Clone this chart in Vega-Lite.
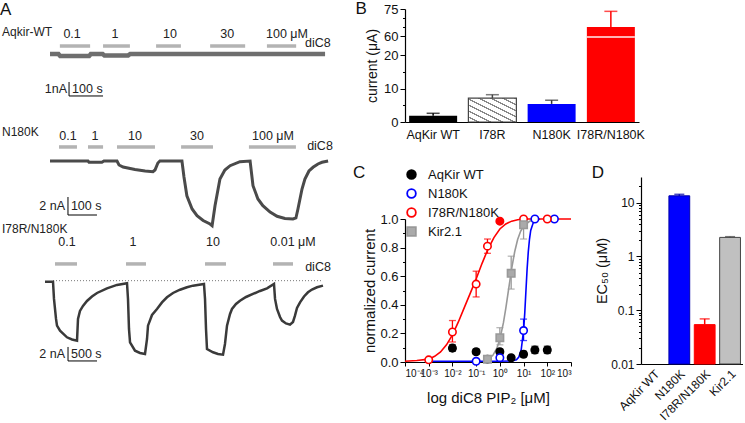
{
 "$schema": "https://vega.github.io/schema/vega-lite/v6.json",
 "padding": 0,
 "background": "white",
 "config": {
  "font": "Liberation Sans",
  "view": {"stroke": null},
  "axis": {"grid": false, "domainColor": "#000", "tickColor": "#000", "labelColor": "#111", "labelFontSize": 13, "titleFontSize": 14, "titleFontWeight": "normal", "titleColor": "#111", "tickSize": 4, "labelPadding": 2, "domainWidth": 1.2, "tickWidth": 1, "labelOverlap": false, "tickCount": 100},
  "title": {"fontSize": 17, "fontWeight": "normal", "anchor": "start", "color": "#111"},
  "text": {"fontSize": 12.5, "color": "#222"}
 },
 "resolve": {"scale": {"fill": "independent", "stroke": "independent", "color": "independent", "shape": "independent"}},
 "datasets": {
  "cpoints": [
   {"series": "AqKir WT", "conc": 0.01, "mean": 0.097, "lo": 0.075, "hi": 0.12},
   {"series": "AqKir WT", "conc": 0.1, "mean": 0.072, "lo": 0.055, "hi": 0.09},
   {"series": "AqKir WT", "conc": 0.3, "mean": 0.02, "lo": 0.012, "hi": 0.028},
   {"series": "AqKir WT", "conc": 1, "mean": 0.072, "lo": 0.055, "hi": 0.09},
   {"series": "AqKir WT", "conc": 3, "mean": 0.03, "lo": 0.022, "hi": 0.038},
   {"series": "AqKir WT", "conc": 10, "mean": 0.054, "lo": 0.035, "hi": 0.075},
   {"series": "AqKir WT", "conc": 30, "mean": 0.084, "lo": 0.06, "hi": 0.11},
   {"series": "AqKir WT", "conc": 100, "mean": 0.084, "lo": 0.06, "hi": 0.11},
   {"series": "N180K", "conc": 0.1, "mean": 0.005, "lo": 0.0, "hi": 0.01},
   {"series": "N180K", "conc": 1, "mean": 0.03, "lo": 0.02, "hi": 0.04},
   {"series": "N180K", "conc": 10, "mean": 0.22, "lo": 0.15, "hi": 0.3},
   {"series": "N180K", "conc": 30, "mean": 1.0, "lo": 1.0, "hi": 1.0},
   {"series": "N180K", "conc": 200, "mean": 1.0, "lo": 1.0, "hi": 1.0},
   {"series": "I78R/N180K", "conc": 0.001, "mean": 0.015, "lo": 0.01, "hi": 0.02},
   {"series": "I78R/N180K", "conc": 0.01, "mean": 0.21, "lo": 0.14, "hi": 0.29},
   {"series": "I78R/N180K", "conc": 0.1, "mean": 0.545, "lo": 0.455, "hi": 0.635},
   {"series": "I78R/N180K", "conc": 0.3, "mean": 0.81, "lo": 0.76, "hi": 0.86},
   {"series": "I78R/N180K", "conc": 1, "mean": 0.985, "lo": 0.975, "hi": 0.995},
   {"series": "I78R/N180K", "conc": 10, "mean": 1.0, "lo": 1.0, "hi": 1.0},
   {"series": "I78R/N180K", "conc": 100, "mean": 1.0, "lo": 1.0, "hi": 1.0},
   {"series": "Kir2.1", "conc": 0.3, "mean": 0.02, "lo": 0.01, "hi": 0.03},
   {"series": "Kir2.1", "conc": 1, "mean": 0.17, "lo": 0.12, "hi": 0.24},
   {"series": "Kir2.1", "conc": 3, "mean": 0.62, "lo": 0.51, "hi": 0.74},
   {"series": "Kir2.1", "conc": 10, "mean": 0.96, "lo": 0.86, "hi": 1.0}
  ],
  "ccurves": [
   {"series": "Kir2.1", "conc": 0.3, "y": 0.017}, {"series": "Kir2.1", "conc": 0.5, "y": 0.045}, {"series": "Kir2.1", "conc": 0.75, "y": 0.096}, {"series": "Kir2.1", "conc": 1, "y": 0.159}, {"series": "Kir2.1", "conc": 1.41, "y": 0.273}, {"series": "Kir2.1", "conc": 1.78, "y": 0.375}, {"series": "Kir2.1", "conc": 2.37, "y": 0.515}, {"series": "Kir2.1", "conc": 3.16, "y": 0.654}, {"series": "Kir2.1", "conc": 4.22, "y": 0.771}, {"series": "Kir2.1", "conc": 5.62, "y": 0.857}, {"series": "Kir2.1", "conc": 7.5, "y": 0.914}, {"series": "Kir2.1", "conc": 10, "y": 0.95}, {"series": "Kir2.1", "conc": 17.8, "y": 0.984}, {"series": "Kir2.1", "conc": 31.6, "y": 0.995},
   {"series": "N180K", "conc": 0.001, "y": 0.005}, {"series": "N180K", "conc": 1, "y": 0.005}, {"series": "N180K", "conc": 3.16, "y": 0.007}, {"series": "N180K", "conc": 5, "y": 0.015}, {"series": "N180K", "conc": 6.31, "y": 0.035}, {"series": "N180K", "conc": 7.94, "y": 0.085}, {"series": "N180K", "conc": 10, "y": 0.22}, {"series": "N180K", "conc": 11.2, "y": 0.34}, {"series": "N180K", "conc": 12.6, "y": 0.5}, {"series": "N180K", "conc": 14.1, "y": 0.65}, {"series": "N180K", "conc": 15.8, "y": 0.77}, {"series": "N180K", "conc": 17.8, "y": 0.86}, {"series": "N180K", "conc": 20, "y": 0.92}, {"series": "N180K", "conc": 25.1, "y": 0.97}, {"series": "N180K", "conc": 31.6, "y": 0.99}, {"series": "N180K", "conc": 50, "y": 1.0},
   {"series": "I78R/N180K", "conc": 0.0001, "y": 0.005}, {"series": "I78R/N180K", "conc": 0.000316, "y": 0.01}, {"series": "I78R/N180K", "conc": 0.001, "y": 0.02}, {"series": "I78R/N180K", "conc": 0.00178, "y": 0.04}, {"series": "I78R/N180K", "conc": 0.00316, "y": 0.07}, {"series": "I78R/N180K", "conc": 0.00562, "y": 0.12}, {"series": "I78R/N180K", "conc": 0.01, "y": 0.19}, {"series": "I78R/N180K", "conc": 0.0178, "y": 0.28}, {"series": "I78R/N180K", "conc": 0.0316, "y": 0.38}, {"series": "I78R/N180K", "conc": 0.0562, "y": 0.48}, {"series": "I78R/N180K", "conc": 0.1, "y": 0.58}, {"series": "I78R/N180K", "conc": 0.178, "y": 0.69}, {"series": "I78R/N180K", "conc": 0.316, "y": 0.79}, {"series": "I78R/N180K", "conc": 0.562, "y": 0.87}, {"series": "I78R/N180K", "conc": 1, "y": 0.93}, {"series": "I78R/N180K", "conc": 1.78, "y": 0.965}, {"series": "I78R/N180K", "conc": 3.16, "y": 0.985}, {"series": "I78R/N180K", "conc": 5.62, "y": 0.995}, {"series": "I78R/N180K", "conc": 10, "y": 1.0}, {"series": "I78R/N180K", "conc": 100, "y": 1.0}, {"series": "I78R/N180K", "conc": 1000, "y": 1.0}
  ]
 },
 "hconcat": [
  {
   "title": {"text": "A", "offset": -10},
   "width": 340,
   "height": 413,
   "resolve": {"scale": {"x": "independent", "y": "independent"}},
   "layer": [
    {
     "layer": [
      {"data": {"values": [{"t":0,"i":0},{"t":25,"i":0},{"t":30,"i":-0.15},{"t":115,"i":-0.15},{"t":120,"i":0},{"t":155,"i":0},{"t":160,"i":-0.1},{"t":230,"i":-0.1},{"t":236,"i":0},{"t":809,"i":0}]},
       "mark": {"type": "line", "color": "#6e6e6e", "strokeWidth": 4.5},
       "encoding": {"x": {"field": "t", "type": "quantitative", "scale": {"domain": [-147.06, 852.94], "nice": false, "zero": false}, "axis": null},
                    "y": {"field": "i", "type": "quantitative", "scale": {"domain": [-26.29, 3.214], "nice": false, "zero": false}, "axis": null}}},
      {"data": {"values": [{"c":"0.1","s":29,"e":118,"m":65},{"c":"1","s":156,"e":235,"m":191},{"c":"10","s":312,"e":385,"m":353},{"c":"30","s":471,"e":574,"m":521},{"c":"100 μM","s":638,"e":724,"m":697}]},
       "layer": [
        {"mark": {"type": "rule", "color": "#b3b3b3", "strokeWidth": 3.5}, "encoding": {"x": {"field": "s", "type": "quantitative"}, "x2": {"field": "e"}, "y": {"datum": 0.57}}},
        {"mark": {"type": "text", "baseline": "middle"}, "encoding": {"x": {"field": "m", "type": "quantitative"}, "y": {"datum": 1.43}, "text": {"field": "c"}}}
       ]},
      {"data": {"values": [{}]}, "mark": {"type": "text", "text": "diC8", "baseline": "middle"}, "encoding": {"x": {"datum": 788}, "y": {"datum": 0.79}}},
      {"data": {"values": [{}]}, "mark": {"type": "text", "text": "Aqkir-WT", "align": "left", "baseline": "middle", "fontSize": 12}, "encoding": {"x": {"datum": -141}, "y": {"datum": 1.57}}},
      {"data": {"values": [{}]}, "mark": {"type": "rule", "color": "#000"}, "encoding": {"x": {"datum": 56}, "y": {"datum": -2}, "y2": {"datum": -3}}},
      {"data": {"values": [{}]}, "mark": {"type": "rule", "color": "#000"}, "encoding": {"x": {"datum": 56}, "x2": {"datum": 156}, "y": {"datum": -3}}},
      {"data": {"values": [{}]}, "mark": {"type": "text", "text": "1nA", "align": "right", "baseline": "middle"}, "encoding": {"x": {"datum": 50}, "y": {"datum": -2.5}}},
      {"data": {"values": [{}]}, "mark": {"type": "text", "text": "100 s", "align": "left", "baseline": "middle"}, "encoding": {"x": {"datum": 65}, "y": {"datum": -2.5}}}
     ]
    },
    {
     "layer": [
      {"data": {"values": [{"t":0,"i":0},{"t":131,"i":0},{"t":134.5,"i":-0.14},{"t":179,"i":-0.14},{"t":186,"i":0},{"t":231,"i":0},{"t":238,"i":-0.44},{"t":252,"i":-0.67},{"t":293,"i":-0.94},{"t":328,"i":-1.11},{"t":355,"i":-1.19},{"t":362,"i":-1.0},{"t":372,"i":-0.22},{"t":379,"i":0},{"t":455,"i":0},{"t":462,"i":-1.78},{"t":472,"i":-3.86},{"t":490,"i":-5.33},{"t":507,"i":-6.08},{"t":528,"i":-6.61},{"t":552,"i":-7.0},{"t":559,"i":-7.19},{"t":569,"i":-4.97},{"t":586,"i":-2.0},{"t":603,"i":-1.0},{"t":621,"i":-0.52},{"t":655,"i":-0.08},{"t":690,"i":0},{"t":700,"i":-2.74},{"t":717,"i":-4.22},{"t":734,"i":-4.97},{"t":759,"i":-5.67},{"t":783,"i":-6.14},{"t":810,"i":-6.39},{"t":838,"i":-6.44},{"t":848,"i":-6.33},{"t":855,"i":-5.33},{"t":869,"i":-3.11},{"t":879,"i":-2.0},{"t":893,"i":-1.11},{"t":907,"i":-0.7},{"t":924,"i":-0.33},{"t":938,"i":-0.14},{"t":959,"i":0}]},
       "mark": {"type": "line", "color": "#4a4a4a", "strokeWidth": 3},
       "encoding": {"x": {"field": "t", "type": "quantitative", "scale": {"domain": [-172.41, 1000], "nice": false, "zero": false}, "axis": null},
                    "y": {"field": "i", "type": "quantitative", "scale": {"domain": [-29.0, 16.89], "nice": false, "zero": false}, "axis": null}}},
      {"data": {"values": [{"c":"0.1","s":31,"e":93,"m":62},{"c":"1","s":131,"e":183,"m":155},{"c":"10","s":231,"e":362,"m":293},{"c":"30","s":452,"e":562,"m":507},{"c":"100 μM","s":686,"e":848,"m":769}]},
       "layer": [
        {"mark": {"type": "rule", "color": "#b3b3b3", "strokeWidth": 3.5}, "encoding": {"x": {"field": "s", "type": "quantitative"}, "x2": {"field": "e"}, "y": {"datum": 1.56}}},
        {"mark": {"type": "text", "baseline": "middle"}, "encoding": {"x": {"field": "m", "type": "quantitative"}, "y": {"datum": 2.78}, "text": {"field": "c"}}}
       ]},
      {"data": {"values": [{}]}, "mark": {"type": "text", "text": "diC8", "baseline": "middle"}, "encoding": {"x": {"datum": 931}, "y": {"datum": 1.67}}},
      {"data": {"values": [{}]}, "mark": {"type": "text", "text": "N180K", "align": "left", "baseline": "middle", "fontSize": 12}, "encoding": {"x": {"datum": -165.5}, "y": {"datum": 3.22}}},
      {"data": {"values": [{}]}, "mark": {"type": "rule", "color": "#000"}, "encoding": {"x": {"datum": 62}, "y": {"datum": -4}, "y2": {"datum": -6}}},
      {"data": {"values": [{}]}, "mark": {"type": "rule", "color": "#000"}, "encoding": {"x": {"datum": 62}, "x2": {"datum": 162}, "y": {"datum": -6}}},
      {"data": {"values": [{}]}, "mark": {"type": "text", "text": "2 nA", "align": "right", "baseline": "middle"}, "encoding": {"x": {"datum": 52}, "y": {"datum": -5}}},
      {"data": {"values": [{}]}, "mark": {"type": "text", "text": "100 s", "align": "left", "baseline": "middle"}, "encoding": {"x": {"datum": 72}, "y": {"datum": -5}}}
     ]
    },
    {
     "layer": [
      {"data": {"values": [{}]}, "mark": {"type": "rule", "color": "#555", "strokeWidth": 0.8, "strokeDash": [1, 2]},
       "encoding": {"x": {"datum": 138, "scale": {"domain": [-775.86, 5086.2], "nice": false, "zero": false}, "axis": null}, "x2": {"datum": 4793}, "y": {"datum": 0, "scale": {"domain": [-20.19, 38.81], "nice": false, "zero": false}, "axis": null}}},
      {"data": {"values": [{"t":0,"i":-0.14},{"t":138,"i":-0.14},{"t":155,"i":-2.61},{"t":190,"i":-5.47},{"t":207,"i":-6.43},{"t":259,"i":-7.14},{"t":379,"i":-8.09},{"t":466,"i":-8.4},{"t":552,"i":-8.57},{"t":569,"i":-5.47},{"t":603,"i":-4.33},{"t":655,"i":-3.61},{"t":724,"i":-2.9},{"t":810,"i":-2.26},{"t":897,"i":-1.76},{"t":1069,"i":-1.09},{"t":1241,"i":-0.61},{"t":1414,"i":-0.37},{"t":1431,"i":-2.61},{"t":1448,"i":-6.9},{"t":1466,"i":-8.8},{"t":1552,"i":-10.0},{"t":1638,"i":-10.33},{"t":1724,"i":-10.47},{"t":1759,"i":-8.33},{"t":1776,"i":-6.43},{"t":1845,"i":-4.9},{"t":1931,"i":-4.04},{"t":2017,"i":-3.11},{"t":2103,"i":-2.37},{"t":2207,"i":-1.76},{"t":2328,"i":-1.29},{"t":2448,"i":-0.94},{"t":2552,"i":-0.71},{"t":2741,"i":-0.47},{"t":2759,"i":-2.61},{"t":2776,"i":-6.9},{"t":2793,"i":-9.76},{"t":2897,"i":-10.23},{"t":2983,"i":-10.47},{"t":3069,"i":-10.57},{"t":3103,"i":-9.04},{"t":3138,"i":-6.43},{"t":3190,"i":-4.76},{"t":3224,"i":-4.04},{"t":3293,"i":-3.33},{"t":3362,"i":-2.86},{"t":3466,"i":-2.33},{"t":3586,"i":-1.9},{"t":3707,"i":-1.47},{"t":3828,"i":-1.09},{"t":3948,"i":-0.47},{"t":3966,"i":-2.61},{"t":4000,"i":-4.04},{"t":4052,"i":-5.19},{"t":4086,"i":-5.71},{"t":4155,"i":-6.11},{"t":4224,"i":-6.29},{"t":4276,"i":-5.9},{"t":4310,"i":-5.0},{"t":4345,"i":-3.9},{"t":4397,"i":-3.09},{"t":4466,"i":-2.26},{"t":4534,"i":-1.66},{"t":4603,"i":-1.26},{"t":4690,"i":-0.94},{"t":4793,"i":-0.71}]},
       "mark": {"type": "line", "color": "#3a3a3a", "strokeWidth": 2.5},
       "encoding": {"x": {"field": "t", "type": "quantitative"}, "y": {"field": "i", "type": "quantitative"}}},
      {"data": {"values": [{"c":"0.1","s":172,"e":552,"m":379},{"c":"1","s":1397,"e":1741,"m":1517},{"c":"10","s":2759,"e":3121,"m":2897},{"c":"0.01 μM","s":3931,"e":4276,"m":4276}]},
       "layer": [
        {"mark": {"type": "rule", "color": "#b3b3b3", "strokeWidth": 3.5}, "encoding": {"x": {"field": "s", "type": "quantitative"}, "x2": {"field": "e"}, "y": {"datum": 2.39}}},
        {"mark": {"type": "text", "baseline": "middle"}, "encoding": {"x": {"field": "m", "type": "quantitative"}, "y": {"datum": 5.53}, "text": {"field": "c"}}}
       ]},
      {"data": {"values": [{}]}, "mark": {"type": "text", "text": "diC8", "baseline": "middle"}, "encoding": {"x": {"datum": 4707}, "y": {"datum": 1.91}}},
      {"data": {"values": [{}]}, "mark": {"type": "text", "text": "I78R/N180K", "align": "left", "baseline": "middle", "fontSize": 12}, "encoding": {"x": {"datum": -741}, "y": {"datum": 7.39}}},
      {"data": {"values": [{}]}, "mark": {"type": "rule", "color": "#000"}, "encoding": {"x": {"datum": 397}, "y": {"datum": -9.47}, "y2": {"datum": -11.47}}},
      {"data": {"values": [{}]}, "mark": {"type": "rule", "color": "#000"}, "encoding": {"x": {"datum": 397}, "x2": {"datum": 897}, "y": {"datum": -11.47}}},
      {"data": {"values": [{}]}, "mark": {"type": "text", "text": "2 nA", "align": "right", "baseline": "middle"}, "encoding": {"x": {"datum": 345}, "y": {"datum": -10.47}}},
      {"data": {"values": [{}]}, "mark": {"type": "text", "text": "500 s", "align": "left", "baseline": "middle"}, "encoding": {"x": {"datum": 448}, "y": {"datum": -10.47}}}
     ]
    }
   ]
  },
  {
   "spacing": 22,
   "resolve": {"scale": {"fill": "independent", "stroke": "independent", "color": "independent", "shape": "independent"}},
   "vconcat": [
    {
     "title": {"text": "B", "offset": -15, "dx": -10},
     "width": 234,
     "height": 113,
     "data": {"values": [
      {"genotype": "AqKir WT", "current": 1.9, "upper": 2.6},
      {"genotype": "I78R", "current": 7.1, "upper": 8.15},
      {"genotype": "N180K", "current": 5.4, "upper": 6.5},
      {"genotype": "I78R/N180K", "current": 65, "upper": 73.7}
     ]},
     "encoding": {"x": {"field": "genotype", "type": "nominal", "sort": null, "scale": {"paddingInner": 0.19, "paddingOuter": 0.07}, "axis": {"title": null, "ticks": false, "labelAngle": 0, "labelFontSize": 12.5, "labelPadding": 6}}},
     "layer": [
      {"mark": {"type": "rule", "strokeWidth": 1.5},
       "encoding": {"y": {"field": "current", "type": "quantitative", "scale": {"domain": [0, 20, 60, 75], "range": [113, 46, 27, 0], "nice": false, "zero": false},
                          "axis": {"title": "current (μA)", "tickCount": 100, "values": [0, 5, 10, 15, 20, 60, 65, 70, 75], "labelExpr": "indexof([0,10,20,60,75], datum.value) >= 0 ? datum.label : ''", "tickSize": {"condition": {"test": "indexof([0,10,20,60,75], datum.value) >= 0", "value": 5}, "value": 2.5}, "titlePadding": 4}},
                    "y2": {"field": "upper"},
                    "stroke": {"field": "genotype", "type": "nominal", "scale": {"domain": ["AqKir WT", "I78R", "N180K", "I78R/N180K"], "range": ["#000000", "#444444", "#333333", "#ff0000"]}, "legend": null}}},
      {"mark": {"type": "tick", "thickness": 1.5, "size": 13},
       "encoding": {"y": {"field": "upper", "type": "quantitative"},
                    "color": {"field": "genotype", "type": "nominal", "scale": {"domain": ["AqKir WT", "I78R", "N180K", "I78R/N180K"], "range": ["#000000", "#444444", "#333333", "#ff0000"]}, "legend": null}}},
      {"mark": {"type": "bar", "strokeWidth": 0},
       "encoding": {"y": {"field": "current", "type": "quantitative"},
                    "fill": {"field": "genotype", "type": "nominal", "scale": {"domain": ["AqKir WT", "I78R", "N180K", "I78R/N180K"], "range": ["#000000", "#ffffff", "#0000ff", "#ff0000"]}, "legend": null}}},
      {"transform": [{"filter": "datum.genotype == 'I78R'"}],
       "mark": {"type": "bar", "stroke": "#444444", "strokeWidth": 1.2,
                "fill": {"gradient": "linear", "x1": 0, "y1": 1, "x2": 1, "y2": 0, "stops": [
                 {"offset": 0, "color": "#ffffff"}, {"offset": 0.09, "color": "#ffffff"}, {"offset": 0.09, "color": "#888888"}, {"offset": 0.125, "color": "#888888"},
                 {"offset": 0.125, "color": "#ffffff"}, {"offset": 0.215, "color": "#ffffff"}, {"offset": 0.215, "color": "#888888"}, {"offset": 0.25, "color": "#888888"},
                 {"offset": 0.25, "color": "#ffffff"}, {"offset": 0.34, "color": "#ffffff"}, {"offset": 0.34, "color": "#888888"}, {"offset": 0.375, "color": "#888888"},
                 {"offset": 0.375, "color": "#ffffff"}, {"offset": 0.465, "color": "#ffffff"}, {"offset": 0.465, "color": "#888888"}, {"offset": 0.5, "color": "#888888"},
                 {"offset": 0.5, "color": "#ffffff"}, {"offset": 0.59, "color": "#ffffff"}, {"offset": 0.59, "color": "#888888"}, {"offset": 0.625, "color": "#888888"},
                 {"offset": 0.625, "color": "#ffffff"}, {"offset": 0.715, "color": "#ffffff"}, {"offset": 0.715, "color": "#888888"}, {"offset": 0.75, "color": "#888888"},
                 {"offset": 0.75, "color": "#ffffff"}, {"offset": 0.84, "color": "#ffffff"}, {"offset": 0.84, "color": "#888888"}, {"offset": 0.875, "color": "#888888"},
                 {"offset": 0.875, "color": "#ffffff"}, {"offset": 0.965, "color": "#ffffff"}, {"offset": 0.965, "color": "#888888"}, {"offset": 1, "color": "#888888"}]}},
       "encoding": {"y": {"field": "current", "type": "quantitative"}}},
      {"transform": [{"filter": "datum.genotype == 'I78R/N180K'"}],
       "mark": {"type": "tick", "color": "#ffffff", "thickness": 2, "size": 48},
       "encoding": {"y": {"datum": 58}}}
     ]
    },
    {
     "spacing": 16,
     "resolve": {"scale": {"fill": "independent", "stroke": "independent", "color": "independent", "shape": "independent"}},
     "hconcat": [
      {
       "title": {"text": "C", "offset": -13.5, "dx": -10},
       "width": 166,
       "height": 185,
       "layer": [
        {"data": {"name": "ccurves"},
         "mark": {"type": "line", "strokeWidth": 1.6},
         "encoding": {
          "x": {"field": "conc", "type": "quantitative", "scale": {"type": "log", "domain": [0.0001, 1000], "nice": false},
                "axis": {"title": "log diC8 PIP₂  [μM]", "tickCount": 100, "values": [0.0001, 0.001, 0.01, 0.1, 1, 10, 100, 1000], "labelExpr": "'10' + ['⁻⁴','⁻³','⁻²','⁻¹','⁰','¹','²','³'][round(log(datum.value)/LN10) + 4]", "labelFontSize": 10, "titleFontSize": 15, "titlePadding": 12}},
          "y": {"field": "y", "type": "quantitative", "scale": {"domain": [0, 1], "range": [185, 42], "nice": false},
                "axis": {"title": "normalized current", "titleFontSize": 15, "tickCount": 100, "values": [0, 0.1, 0.2, 0.3, 0.4, 0.5, 0.6, 0.7, 0.8, 0.9, 1.0], "labelExpr": "round(datum.value*10) % 2 == 0 ? format(datum.value, '.1f') : ''", "tickSize": {"condition": {"test": "round(datum.value*10) % 2 == 0", "value": 5}, "value": 2.5}, "titlePadding": 2}},
          "color": {"field": "series", "type": "nominal", "scale": {"domain": ["N180K", "I78R/N180K", "Kir2.1", "AqKir WT"], "range": ["#0000ff", "#ff0000", "#999999", "#000000"]}, "legend": null}
         }},
        {"data": {"name": "cpoints"},
         "mark": {"type": "rule", "strokeWidth": 1.3},
         "encoding": {"x": {"field": "conc", "type": "quantitative"}, "y": {"field": "lo", "type": "quantitative"}, "y2": {"field": "hi"},
                      "color": {"field": "series", "type": "nominal", "legend": null}}},
        {"data": {"name": "cpoints"},
         "mark": {"type": "tick", "orient": "horizontal", "size": 7, "thickness": 1.3},
         "encoding": {"x": {"field": "conc", "type": "quantitative"}, "y": {"field": "lo", "type": "quantitative"},
                      "color": {"field": "series", "type": "nominal", "legend": null}}},
        {"data": {"name": "cpoints"},
         "mark": {"type": "tick", "orient": "horizontal", "size": 7, "thickness": 1.3},
         "encoding": {"x": {"field": "conc", "type": "quantitative"}, "y": {"field": "hi", "type": "quantitative"},
                      "color": {"field": "series", "type": "nominal", "legend": null}}},
        {"data": {"name": "cpoints"},
         "mark": {"type": "point", "opacity": 1, "strokeWidth": 1.6, "size": 55},
         "encoding": {"x": {"field": "conc", "type": "quantitative"}, "y": {"field": "mean", "type": "quantitative"},
                      "stroke": {"field": "series", "type": "nominal", "scale": {"domain": ["AqKir WT", "N180K", "I78R/N180K", "Kir2.1"], "range": ["#000000", "#0000ff", "#ff0000", "#999999"]}, "legend": {"title": null, "orient": "none", "legendX": 0, "legendY": -9, "labelFontSize": 13, "symbolSize": 75, "rowPadding": 2, "labelOffset": 10, "symbolStrokeWidth": 1.8, "labelColor": "#111"}},
                      "fill": {"field": "series", "type": "nominal", "scale": {"domain": ["AqKir WT", "N180K", "I78R/N180K", "Kir2.1"], "range": ["#000000", "#ffffff", "#ffffff", "#aaaaaa"]}, "legend": {"title": null, "orient": "none", "legendX": 0, "legendY": -9, "labelFontSize": 13, "symbolSize": 75, "rowPadding": 2, "labelOffset": 10, "symbolStrokeWidth": 1.8, "labelColor": "#111"}},
                      "shape": {"field": "series", "type": "nominal", "scale": {"domain": ["AqKir WT", "N180K", "I78R/N180K", "Kir2.1"], "range": ["circle", "circle", "circle", "square"]}, "legend": {"title": null, "orient": "none", "legendX": 0, "legendY": -9, "labelFontSize": 13, "symbolSize": 75, "rowPadding": 2, "labelOffset": 10, "symbolStrokeWidth": 1.8, "labelColor": "#111"}}}},
        {"data": {"name": "cpoints"},
         "transform": [{"filter": "datum.series == 'I78R/N180K' && datum.conc == 1"}],
         "mark": {"type": "point", "filled": true, "color": "#ff0000", "opacity": 1, "size": 55},
         "encoding": {"x": {"field": "conc", "type": "quantitative"}, "y": {"field": "mean", "type": "quantitative"}}}
       ]
      },
      {
       "title": {"text": "D", "offset": -4.5, "dx": -3},
       "width": 102,
       "height": 187,
       "data": {"values": [
        {"genotype": "N180K", "ec50": 13.4, "upper": 14.3},
        {"genotype": "I78R/N180K", "ec50": 0.054, "upper": 0.069},
        {"genotype": "Kir2.1", "ec50": 2.26, "upper": 2.33}
       ]},
       "encoding": {"x": {"field": "genotype", "type": "nominal", "scale": {"domain": ["AqKir WT", "N180K", "I78R/N180K", "Kir2.1"], "paddingInner": 0.18, "paddingOuter": 0.1}, "axis": {"title": null, "ticks": false, "labelAngle": -45, "labelFontSize": 12, "labelPadding": 4}}},
       "layer": [
        {"mark": {"type": "rule", "strokeWidth": 1.5},
         "encoding": {"y": {"field": "ec50", "type": "quantitative", "scale": {"type": "log", "domain": [0.01, 30], "nice": false},
                            "axis": {"title": "EC₅₀ (μM)", "labelFontSize": 12, "titleFontSize": 14.5, "titlePadding": 1, "tickCount": 100, "values": [0.01,0.02,0.03,0.04,0.05,0.06,0.07,0.08,0.09,0.1,0.2,0.3,0.4,0.5,0.6,0.7,0.8,0.9,1,2,3,4,5,6,7,8,9,10,20], "labelExpr": "indexof([0.01,0.1,1,10], datum.value) >= 0 ? datum.label : ''", "tickSize": {"condition": {"test": "indexof([0.01,0.1,1,10], datum.value) >= 0", "value": 5}, "value": 2.5}}},
                      "y2": {"field": "upper"},
                      "stroke": {"field": "genotype", "type": "nominal", "scale": {"domain": ["AqKir WT", "N180K", "I78R/N180K", "Kir2.1"], "range": ["#000000", "#0000aa", "#ff0000", "#444444"]}, "legend": null}}},
        {"mark": {"type": "tick", "thickness": 1.5, "size": 10},
         "encoding": {"y": {"field": "upper", "type": "quantitative"},
                      "color": {"field": "genotype", "type": "nominal", "scale": {"domain": ["AqKir WT", "N180K", "I78R/N180K", "Kir2.1"], "range": ["#000000", "#0000aa", "#ff0000", "#444444"]}, "legend": null}}},
        {"mark": {"type": "bar", "strokeWidth": 1},
         "encoding": {"y": {"field": "ec50", "type": "quantitative"}, "y2": {"datum": 0.01},
                      "fill": {"field": "genotype", "type": "nominal", "scale": {"domain": ["AqKir WT", "N180K", "I78R/N180K", "Kir2.1"], "range": ["#000000", "#0000ff", "#ff0000", "#c0c0c0"]}, "legend": null},
                      "stroke": {"field": "genotype", "type": "nominal", "legend": null}}}
       ]
      }
     ]
    }
   ]
  }
 ],
 "spacing": 12
}
